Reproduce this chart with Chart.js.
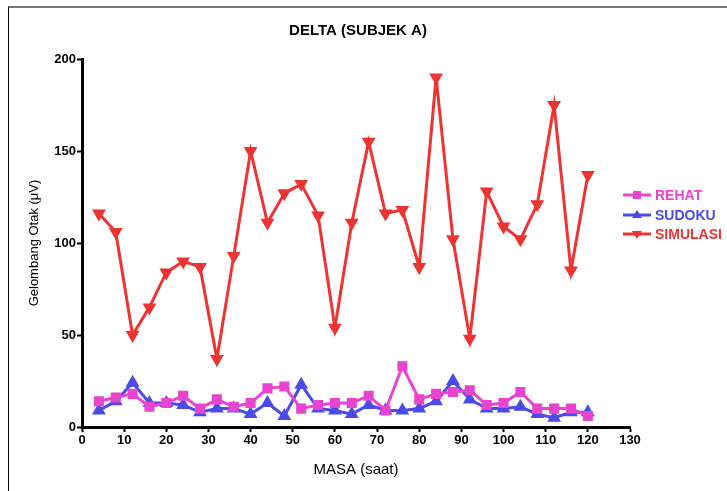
<!DOCTYPE html>
<html>
<head>
<meta charset="utf-8">
<script src="https://cdn.jsdelivr.net/npm/chart.js@4"></script>
<style>
html,body{margin:0;padding:0;background:#fff;}
#wrap{position:relative;width:727px;height:491px;}
#frame{position:absolute;left:8px;top:6px;width:719px;height:485px;border-top:2px solid #777;border-left:1px solid #000;pointer-events:none;box-sizing:border-box;}
canvas{position:absolute;left:0;top:0;}
</style>
</head>
<body>
<div id="wrap">
<canvas id="c" width="727" height="491"></canvas>
<div id="frame"></div>
</div>
<script>
const masa = [4,8,12,16,20,24,28,32,36,40,44,48,52,56,60,64,68,72,76,80,84,88,92,96,100,104,108,112,116,120];
const rehat = [14,16,18,11,13,17,10,15,11,13,21,22,10,12,13,13,17,9,33,15,18,19,20,12,13,19,10,10,10,6];
const sudoku = [9,14,24,13,13,12,8,10,10,7,13,6,23,10,9,7,12,9,9,10,14,25,15,10,10,11,7,5,8,8];
const simulasi = [116,106,50,65,84,90,87,37,93,150,111,127,132,115,54,111,155,116,118,87,190,102,48,128,109,102,121,175,85,137];
const xTicks = [0,10,20,30,40,50,60,70,80,90,100,110,120,130];
const yTicks = [0,50,100,150,200];
const seriesNames = ['REHAT','SUDOKU','SIMULASI'];
const seriesColors = ['#E844CF','#4B4BEA','#EE3333'];

const FONT = "'Liberation Sans Narrow','Liberation Sans',Arial,sans-serif";

function pts(vals){ return masa.map((x,i)=>({x:x,y:vals[i]})); }

const legendPlugin = {
  id:'customDeco',
  afterDraw(chart){
    const ctx = chart.ctx;
    ctx.save();
    ctx.fillStyle = '#000';
    ctx.font = "bold 15px 'Liberation Sans Narrow','Liberation Sans',Arial,sans-serif";
    ctx.textAlign = 'center';
    ctx.textBaseline = 'middle';
    ctx.fillText('DELTA (SUBJEK A)', 358, 31);
    const ys = [195, 215, 234];
    chart.data.datasets.forEach((ds,i)=>{
      const y = ys[i];
      ctx.strokeStyle = ds.borderColor;
      ctx.lineWidth = 3;
      ctx.beginPath(); ctx.moveTo(623,y); ctx.lineTo(651,y); ctx.stroke();
      ctx.fillStyle = ds.borderColor;
      const cx = 637;
      if (i===0){ ctx.fillRect(cx-4,y-4,8,8); }
      else if (i===1){ ctx.beginPath(); ctx.moveTo(cx,y-5); ctx.lineTo(cx+5,y+3); ctx.lineTo(cx-5,y+3); ctx.closePath(); ctx.fill(); }
      else { ctx.beginPath(); ctx.moveTo(cx,y+5); ctx.lineTo(cx+5,y-3); ctx.lineTo(cx-5,y-3); ctx.closePath(); ctx.fill(); }
      ctx.font = "bold 14px 'Liberation Sans Narrow','Liberation Sans',Arial,sans-serif";
      ctx.textAlign = 'left';
      ctx.fillText(ds.label, 655, y+1);
    });
    ctx.restore();
  }
};

new Chart(document.getElementById('c'), {
  type:'line',
  data:{
    datasets:[
      {label:seriesNames[0], data:pts(rehat), borderColor:seriesColors[0], backgroundColor:seriesColors[0], borderWidth:3, pointStyle:'rect', pointRadius:5, pointHoverRadius:5, tension:0},
      {label:seriesNames[1], data:pts(sudoku), borderColor:seriesColors[1], backgroundColor:seriesColors[1], borderWidth:3, pointStyle:'triangle', pointRadius:5, pointHoverRadius:5, tension:0},
      {label:seriesNames[2], data:pts(simulasi), borderColor:seriesColors[2], backgroundColor:seriesColors[2], borderWidth:3, pointStyle:'triangle', pointRotation:180, pointRadius:5, pointHoverRadius:5, tension:0}
    ]
  },
  options:{
    responsive:false,
    animation:false,
    layout:{padding:{left:22,right:97,top:59,bottom:12}},
    plugins:{legend:{display:false},title:{display:false},tooltip:{enabled:false}},
    scales:{
      x:{
        type:'linear', min:0, max:130,
        afterBuildTicks(s){ s.ticks = xTicks.map(v=>({value:v})); },
        afterFit(s){ s.height = 52; },
        grid:{drawOnChartArea:false, drawTicks:true, tickLength:5, tickWidth:2, tickColor:'#000'},
        border:{display:true, color:'#000', width:3},
        ticks:{color:'#000', font:{family:FONT, size:13, weight:'bold'}, padding:1, maxRotation:0, autoSkip:false},
        title:{display:true, text:'MASA (saat)', color:'#000', font:{family:FONT, size:15}, padding:{top:2,bottom:0}}
      },
      y:{
        type:'linear', min:0, max:200,
        afterBuildTicks(s){ s.ticks = yTicks.map(v=>({value:v})); },
        afterFit(s){ s.width = 60; },
        grid:{drawOnChartArea:false, drawTicks:true, tickLength:5, tickWidth:2, tickColor:'#000'},
        border:{display:true, color:'#000', width:3},
        ticks:{color:'#000', font:{family:FONT, size:13, weight:'bold'}, padding:1},
        title:{display:true, text:'Gelombang Otak (\u03BCV)', color:'#000', font:{family:"'Liberation Sans',Arial,sans-serif", size:13}, padding:{top:5,bottom:0}}
      }
    }
  },
  plugins:[legendPlugin]
});
</script>
</body>
</html>
